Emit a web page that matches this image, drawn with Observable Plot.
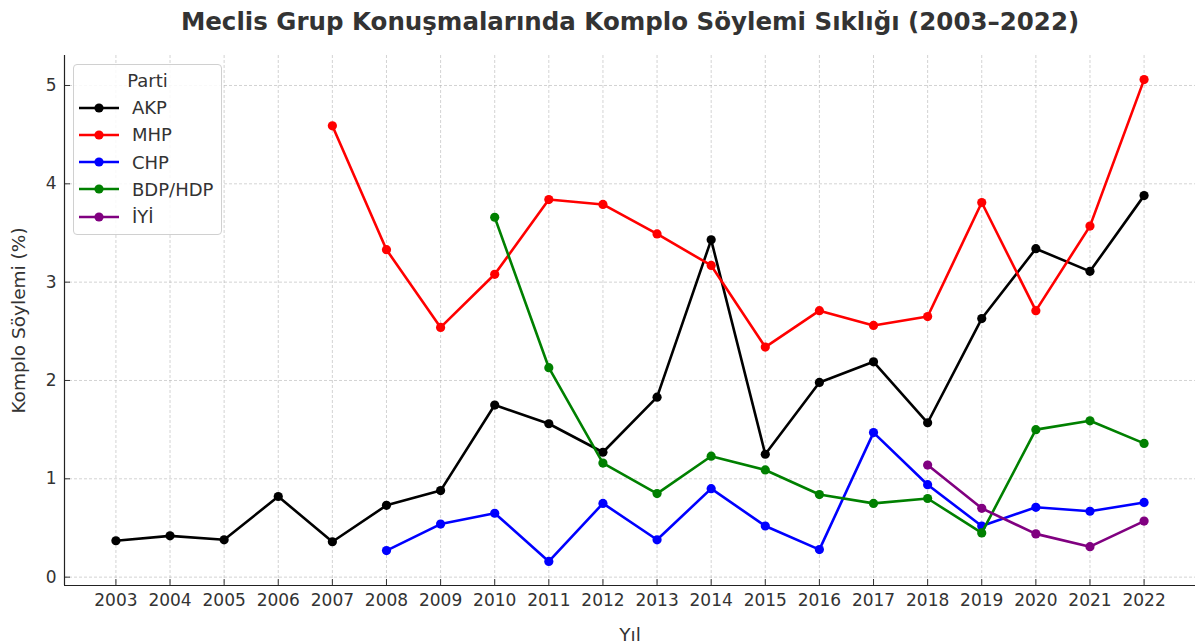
<!DOCTYPE html>
<html>
<head>
<meta charset="utf-8">
<script src="https://cdn.jsdelivr.net/npm/d3@7"></script>
<script src="https://cdn.jsdelivr.net/npm/@observablehq/plot@0.6"></script>
<style>
  html, body { margin: 0; padding: 0; background: #fff; }
  body { width: 1195px; height: 644px; position: relative; overflow: hidden; font-family: "DejaVu Sans", sans-serif; }
  #title { height: 44px; line-height: 44px; text-align: center; font-weight: bold; font-size: 24.5px; color: #333; padding-left: 65px; box-sizing: border-box; white-space: nowrap; }
  #legend { position: absolute; left: 73px; top: 64px; width: 149px; height: 171px; box-sizing: border-box; border: 1px solid #d0d0d0; border-radius: 4px; background: rgba(255,255,255,0.85); font-size: 18px; color: #333; }
  #legend .lt { text-align: center; margin-top: 3px; height: 26px; line-height: 26px; }
  #legend .row { position: absolute; left: 5px; height: 27px; display: flex; align-items: center; }
  #legend .row span { margin-left: 13px; }
  #chart svg { overflow: visible; }
</style>
</head>
<body>
<div id="title">Meclis Grup Konuşmalarında Komplo Söylemi Sıklığı (2003–2022)</div>
<div id="chart"></div>
<div id="legend"></div>
<script>
const years = [2003,2004,2005,2006,2007,2008,2009,2010,2011,2012,2013,2014,2015,2016,2017,2018,2019,2020,2021,2022];
const parties = ["AKP","MHP","CHP","BDP/HDP","İYİ"];
const colors = ["#000000","#ff0000","#0000ff","#008000","#800080"];
const akp = [0.37,0.42,0.38,0.82,0.36,0.73,0.88,1.75,1.56,1.27,1.83,3.43,1.25,1.98,2.19,1.57,2.63,3.34,3.11,3.88];
const mhp = [null,null,null,null,4.59,3.33,2.54,3.08,3.84,3.79,3.49,3.17,2.34,2.71,2.56,2.65,3.81,2.71,3.57,5.06];
const chp = [null,null,null,null,null,0.27,0.54,0.65,0.16,0.75,0.38,0.90,0.52,0.28,1.47,0.94,0.52,0.71,0.67,0.76];
const hdp = [null,null,null,null,null,null,null,3.66,2.13,1.16,0.85,1.23,1.09,0.84,0.75,0.80,0.45,1.50,1.59,1.36];
const iyi = [null,null,null,null,null,null,null,null,null,null,null,null,null,null,null,1.14,0.70,0.44,0.31,0.57];
const yTicks = [0,1,2,3,4,5];

const seriesVals = [akp, mhp, chp, hdp, iyi];
const series = parties.map((p, i) => ({
  party: p,
  color: colors[i],
  data: years.map((y, j) => ({year: y, value: seriesVals[i][j], party: p})).filter(d => d.value != null)
}));

const marks = [
  Plot.gridX(years, {stroke: "#b0b0b0", strokeOpacity: 0.7, strokeDasharray: "3,2", strokeWidth: 0.8}),
  Plot.gridY(yTicks, {stroke: "#b0b0b0", strokeOpacity: 0.7, strokeDasharray: "3,2", strokeWidth: 0.8}),
  Plot.axisX(years, {tickFormat: d => String(d), tickSize: -6, tickPadding: 14, fontSize: 17, fill: "#333", stroke: "#333",
    label: null}),
  Plot.axisX({label: "Yıl", labelAnchor: "center", labelArrow: "none", labelOffset: 55, fontSize: 18.5, fill: "#333", ticks: [], tickSize: 0}),
  Plot.axisY(yTicks, {tickFormat: d => String(d), tickSize: -6, tickPadding: 14, fontSize: 17, fill: "#333", stroke: "#333",
    label: null}),
  Plot.axisY({label: "Komplo Söylemi (%)", labelAnchor: "center", labelArrow: "none", labelOffset: 53, fontSize: 18.5, fill: "#333", ticks: [], tickSize: 0}),
  Plot.ruleX([0], {x: () => 2002.05, stroke: "#222", strokeWidth: 1.2}),
  Plot.ruleY([0], {y: () => -0.085, stroke: "#222", strokeWidth: 1.2})
];
for (const s of series) {
  marks.push(Plot.line(s.data, {x: "year", y: "value", stroke: s.color, strokeWidth: 2.6}));
  marks.push(Plot.dot(s.data, {x: "year", y: "value", fill: s.color, r: 4.6, stroke: "none"}));
}

const chart = Plot.plot({
  width: 1195,
  height: 600,
  marginTop: 11,
  marginBottom: 59,
  marginLeft: 64,
  marginRight: 0,
  style: {fontFamily: "DejaVu Sans, sans-serif", fontSize: "17px", color: "#333", background: "transparent"},
  x: {domain: [2002.05, 2022.95]},
  y: {domain: [-0.085, 5.305]},
  marks
});
document.getElementById("chart").appendChild(chart);

// legend
const leg = document.getElementById("legend");
const lt = document.createElement("div");
lt.className = "lt";
lt.textContent = "Parti";
leg.appendChild(lt);
parties.forEach((p, i) => {
  const row = document.createElement("div");
  row.className = "row";
  row.style.top = (29 + i * 27.3) + "px";
  row.innerHTML = `<svg width="40" height="12"><line x1="0" x2="40" y1="6" y2="6" stroke="${colors[i]}" stroke-width="2.6"/><circle cx="20" cy="6" r="4.6" fill="${colors[i]}"/></svg><span>${p}</span>`;
  leg.appendChild(row);
});
</script>
</body>
</html>
